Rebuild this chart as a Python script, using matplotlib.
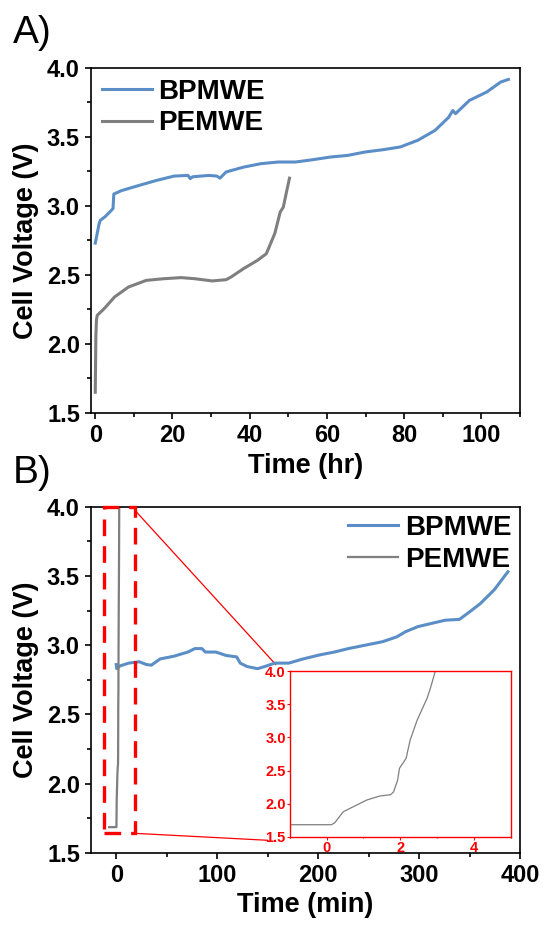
import numpy as np
import matplotlib.pyplot as plt
from matplotlib.patches import Rectangle
from matplotlib.ticker import MultipleLocator

plt.rcParams['font.family'] = ['Liberation Sans', 'DejaVu Sans']
plt.rcParams['font.weight'] = 'bold'
plt.rcParams['axes.labelweight'] = 'bold'

blue = '#5B8EC6'
grey = '#7F7F7F'
red = '#FF0000'

# A) long term run, hours
bp_hr = [0, 0.5, 1, 1.3, 2.5, 4.1, 4.6, 4.8, 6.8, 11.4, 15.9, 20.4, 24.0, 24.6, 25.2, 29.4,
         31.5, 32.3, 33.9, 38.4, 42.9, 47.4, 51.9, 56.4, 60.9, 65.4, 70.0, 74.5, 79.0,
         83.5, 88.0, 91.5, 92.6, 93.3, 96.9, 101.4, 105.0, 107.0]
bp_hr_v = [2.73, 2.80, 2.87, 2.895, 2.92, 2.965, 2.98, 3.085, 3.11, 3.148, 3.184, 3.215, 3.22,
           3.197, 3.21, 3.22, 3.215, 3.20, 3.245, 3.28, 3.305, 3.317, 3.317, 3.334, 3.353,
           3.365, 3.39, 3.406, 3.426, 3.474, 3.546, 3.64, 3.69, 3.667, 3.763, 3.824, 3.896, 3.915]
pem_hr = [0, 0.15, 0.3, 0.5, 2.3, 5.0, 8.6, 13.2, 17.7, 22.2, 25.8, 30.3, 33.9, 35.2,
          38.4, 42.0, 44.3, 46.5, 47.9, 48.7, 49.6, 50.3]
pem_hr_v = [1.65, 2.05, 2.17, 2.207, 2.255, 2.34, 2.412, 2.46, 2.472, 2.48, 2.472, 2.456,
            2.465, 2.485, 2.545, 2.605, 2.653, 2.80, 2.955, 2.99, 3.11, 3.20]

# B) short term run, minutes
bp_min = [0, 0.5, 3.8, 12.4, 22.8, 29.7, 34.8, 43.4, 57.2, 71.0, 77.9, 84.8, 88.3, 98.6,
          109, 119.3, 122.8, 129.7, 140, 147, 157, 171, 185, 202, 216, 230, 247, 264, 278,
          286.6, 298.6, 312.4, 326, 340, 350, 360.7, 374.5, 388]
bp_min_v = [2.86, 2.83, 2.85, 2.87, 2.88, 2.86, 2.855, 2.90, 2.92, 2.95, 2.975, 2.975, 2.95,
            2.95, 2.925, 2.915, 2.87, 2.845, 2.83, 2.845, 2.87, 2.87, 2.90, 2.93, 2.95, 2.975,
            3.0, 3.025, 3.06, 3.097, 3.133, 3.157, 3.18, 3.186, 3.24, 3.30, 3.40, 3.53]
pem_min = [-7, 0.13, 0.22, 0.45, 0.63, 1.09, 1.45, 1.74, 1.82, 1.93, 1.98, 2.16, 2.27,
           2.46, 2.73, 2.82, 2.95, 3.0]
pem_min_v = [1.685, 1.685, 1.715, 1.88, 1.93, 2.057, 2.118, 2.137, 2.18, 2.358, 2.535,
             2.685, 2.96, 3.26, 3.59, 3.74, 3.99, 4.05]

# zoom box and connector ends (data coords of panel B)
box = (-12, 1.64, 31, 2.36)
conn_top = ([19, 158], [3.97, 2.86])
conn_bot = ([19, 150], [1.64, 1.59])

fig = plt.figure(figsize=(5.46, 9.27), dpi=100)
ax1 = fig.add_axes([0.1667, 0.5545, 0.7857, 0.3725])
ax2 = fig.add_axes([0.1667, 0.0801, 0.7857, 0.3733])
ins = fig.add_axes([0.531, 0.0971, 0.404, 0.179])


def style(ax, xmaj, xmin):
    ax.set_ylim(1.5, 4.0)
    ax.yaxis.set_major_locator(MultipleLocator(0.5))
    ax.yaxis.set_minor_locator(MultipleLocator(0.25))
    ax.xaxis.set_major_locator(MultipleLocator(xmaj))
    ax.xaxis.set_minor_locator(MultipleLocator(xmin))
    ax.tick_params(which='both', direction='out', width=1.2, labelsize=17, pad=4)
    ax.tick_params(which='major', length=4)
    ax.tick_params(which='minor', length=3)
    for s in ax.spines.values():
        s.set_linewidth(1.2)
    ax.set_ylabel('Cell Voltage (V)', fontsize=19.5, fontweight='bold', labelpad=6)


# panel A
ax1.plot(bp_hr, bp_hr_v, color=blue, lw=2.2, label='BPMWE')
ax1.plot(pem_hr, pem_hr_v, color=grey, lw=2.2, label='PEMWE')
ax1.set_xlim(-1.1, 110)
style(ax1, 20, 10)
ax1.set_xlabel('Time (hr)', fontsize=19.5, fontweight='bold', labelpad=4)
ax1.legend(loc='upper left', frameon=False, fontsize=20, handlelength=1.8,
           handletextpad=0.2, labelspacing=0.2, borderaxespad=0.2, borderpad=0.2)

# panel B
ax2.plot(bp_min, bp_min_v, color=blue, lw=2.2, label='BPMWE')
ax2.plot(pem_min, pem_min_v, color=grey, lw=1.6, label='PEMWE')
ax2.set_xlim(-25, 400)
style(ax2, 100, 50)
ax2.set_xlabel('Time (min)', fontsize=19.5, fontweight='bold', labelpad=4)
ax2.legend(loc='upper right', frameon=False, fontsize=20, handlelength=1.8,
           handletextpad=0.25, labelspacing=0.2, borderaxespad=0.1, borderpad=0.2)

ax2.add_patch(Rectangle(box[:2], box[2], box[3], fill=False, ec=red, lw=2.4,
                        ls=(0, (5, 3)), clip_on=False, zorder=5))
ax2.plot(*conn_top, color=red, lw=0.9, zorder=1)
ax2.plot(*conn_bot, color=red, lw=0.9, zorder=1)

# inset
ins.plot(pem_min, pem_min_v, color=grey, lw=0.9)
ins.set_xlim(-1, 5)
ins.set_ylim(1.5, 4.0)
ins.xaxis.set_major_locator(MultipleLocator(2))
ins.xaxis.set_minor_locator(MultipleLocator(1))
ins.yaxis.set_major_locator(MultipleLocator(0.5))
ins.tick_params(which='both', direction='out', colors=red, labelsize=10.5, pad=1)
ins.tick_params(which='major', length=2, width=0.8)
ins.tick_params(which='minor', length=1, width=0.8)
for s in ins.spines.values():
    s.set_color(red)
    s.set_linewidth(1.0)

fig.text(0.0238, 0.9536, 'A)', fontsize=28, fontweight='normal')
fig.text(0.0238, 0.479, 'B)', fontsize=28, fontweight='normal')

fig.savefig('out.png', dpi=100)
